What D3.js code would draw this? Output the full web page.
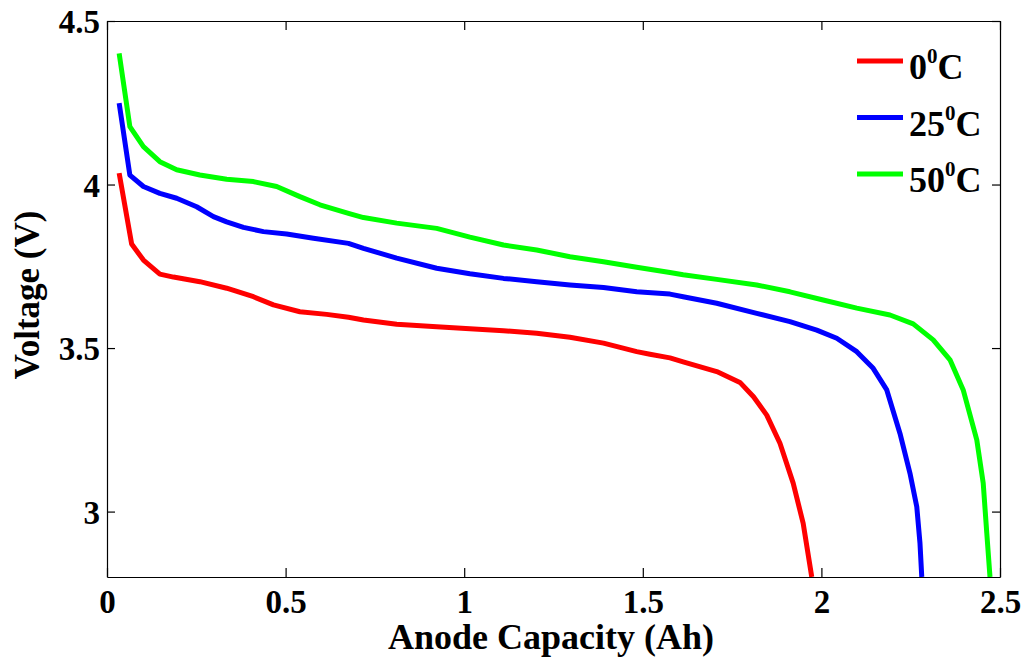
<!DOCTYPE html>
<meta charset="utf-8">
<style>
  body { margin: 0; background: #fff; }
  text { font-family: "Liberation Serif", "Times New Roman", serif; font-weight: bold; fill: #000; }
</style>
<svg width="1026" height="661"></svg>
<script src="https://d3js.org/d3.v7.min.js"></script>
<script>

// discharge curves
var capacity0 = [0.034, 0.069, 0.102, 0.148, 0.186, 0.26, 0.335, 0.41, 0.466, 0.54, 0.615, 0.676, 0.718, 0.811, 0.923, 1.016, 1.11, 1.203, 1.296, 1.39, 1.483, 1.52, 1.576, 1.613, 1.707, 1.772, 1.81, 1.847, 1.884, 1.921, 1.949, 1.973];
var voltage0  = [4.035, 3.818, 3.769, 3.726, 3.717, 3.703, 3.683, 3.657, 3.632, 3.611, 3.603, 3.594, 3.586, 3.573, 3.565, 3.559, 3.553, 3.545, 3.533, 3.515, 3.489, 3.481, 3.470, 3.458, 3.428, 3.395, 3.351, 3.295, 3.209, 3.087, 2.964, 2.80];

var capacity25 = [0.034, 0.064, 0.102, 0.148, 0.195, 0.251, 0.298, 0.335, 0.382, 0.438, 0.503, 0.578, 0.676, 0.718, 0.811, 0.923, 1.016, 1.11, 1.203, 1.296, 1.39, 1.483, 1.576, 1.613, 1.707, 1.819, 1.912, 1.987, 2.043, 2.099, 2.145, 2.183, 2.22, 2.248, 2.267, 2.276, 2.281];
var voltage25  = [4.249, 4.029, 3.994, 3.973, 3.958, 3.932, 3.902, 3.886, 3.869, 3.856, 3.849, 3.836, 3.82, 3.805, 3.775, 3.744, 3.727, 3.713, 3.703, 3.693, 3.685, 3.672, 3.665, 3.657, 3.637, 3.606, 3.581, 3.555, 3.53, 3.489, 3.438, 3.372, 3.239, 3.117, 3.015, 2.903, 2.80];

var capacity50 = [0.034, 0.064, 0.102, 0.148, 0.195, 0.26, 0.335, 0.41, 0.475, 0.54, 0.596, 0.676, 0.718, 0.811, 0.923, 1.016, 1.11, 1.203, 1.296, 1.39, 1.483, 1.576, 1.613, 1.707, 1.819, 1.912, 2.005, 2.099, 2.192, 2.257, 2.313, 2.36, 2.397, 2.435, 2.453, 2.463, 2.472];
var voltage50  = [4.401, 4.177, 4.116, 4.070, 4.045, 4.029, 4.016, 4.009, 3.994, 3.963, 3.938, 3.912, 3.899, 3.882, 3.866, 3.839, 3.815, 3.80, 3.779, 3.764, 3.747, 3.731, 3.724, 3.71, 3.693, 3.672, 3.647, 3.622, 3.601, 3.574, 3.525, 3.464, 3.372, 3.219, 3.087, 2.934, 2.80];

var seriesNames = ["0", "25", "50"];
var seriesColors = ["#ff0000", "#0000ff", "#00ff00"];

var xTicks = [0, 0.5, 1, 1.5, 2, 2.5];
var xTickLabels = ["0", "0.5", "1", "1.5", "2", "2.5"];
var yTicks = [3, 3.5, 4, 4.5];
var yTickLabels = ["3", "3.5", "4", "4.5"];

var svg = d3.select("svg");
// note: "top" is taken by window.top, so use plot* names
var plotLeft = 107, plotRight = 1000, plotTop = 21, plotBottom = 577;

var x = d3.scaleLinear().domain([0, 2.5]).range([plotLeft, plotRight]);
var y = d3.scaleLinear().domain([2.8, 4.5]).range([plotBottom, plotTop]);

var series = [
  {name: seriesNames[0], color: seriesColors[0], xs: capacity0, ys: voltage0},
  {name: seriesNames[1], color: seriesColors[1], xs: capacity25, ys: voltage25},
  {name: seriesNames[2], color: seriesColors[2], xs: capacity50, ys: voltage50}
];

svg.append("clipPath").attr("id", "plot")
  .append("rect").attr("x", plotLeft).attr("y", plotTop)
  .attr("width", plotRight - plotLeft).attr("height", plotBottom - plotTop);

var line = d3.line()
    .x(function(d) { return x(d[0]); })
    .y(function(d) { return y(d[1]); });

svg.append("g").attr("clip-path", "url(#plot)")
  .selectAll("path").data(series).enter().append("path")
    .attr("d", function(s) { return line(d3.zip(s.xs, s.ys)); })
    .attr("fill", "none")
    .attr("stroke", function(s) { return s.color; })
    .attr("stroke-width", 5)
    .attr("stroke-linejoin", "round");

// axes, ticks pointing inward on all four sides
var fmtX = function(d, i) { return xTickLabels[i]; };
var fmtY = function(d, i) { return yTickLabels[i]; };

var gx = svg.append("g").attr("transform", "translate(0," + plotBottom + ")")
  .call(d3.axisBottom(x).tickValues(xTicks).tickFormat(fmtX).tickSizeInner(-9).tickSizeOuter(0));
gx.selectAll("text").attr("y", 36).attr("dy", 0).style("font-size", "33px");

var gy = svg.append("g").attr("transform", "translate(" + plotLeft + ",0)")
  .call(d3.axisLeft(y).tickValues(yTicks).tickFormat(fmtY).tickSizeInner(-8).tickSizeOuter(0));
gy.selectAll("text").attr("x", -7).attr("dy", "0.35em").style("font-size", "33px");

svg.append("g").attr("transform", "translate(0," + plotTop + ")")
  .call(d3.axisTop(x).tickValues(xTicks).tickFormat("").tickSizeInner(-9).tickSizeOuter(0));
svg.append("g").attr("transform", "translate(" + plotRight + ",0)")
  .call(d3.axisRight(y).tickValues(yTicks).tickFormat("").tickSizeInner(-8).tickSizeOuter(0));

svg.selectAll(".domain, .tick line").attr("stroke", "#000").attr("stroke-width", 1.2);

svg.append("text")
  .attr("x", 551).attr("y", 649)
  .attr("text-anchor", "middle").style("font-size", "36px")
  .text("Anode Capacity (Ah)");

svg.append("text")
  .attr("transform", "translate(39,295) rotate(-90)")
  .attr("text-anchor", "middle").style("font-size", "35px")
  .text("Voltage (V)");

// legend, no box
var legend = svg.append("g").selectAll("g").data(series).enter().append("g")
    .attr("transform", function(d, i) { return "translate(857," + (61 + i * 56.5) + ")"; });

legend.append("line")
    .attr("x1", 0).attr("x2", 46)
    .attr("stroke", function(d) { return d.color; })
    .attr("stroke-width", 5);

var lt = legend.append("text").attr("x", 52).attr("y", 18).style("font-size", "36px");
lt.append("tspan").text(function(d) { return d.name; });
lt.append("tspan").attr("dy", -16).style("font-size", "21px").text("0");
lt.append("tspan").attr("dy", 16).text("C");

</script>
